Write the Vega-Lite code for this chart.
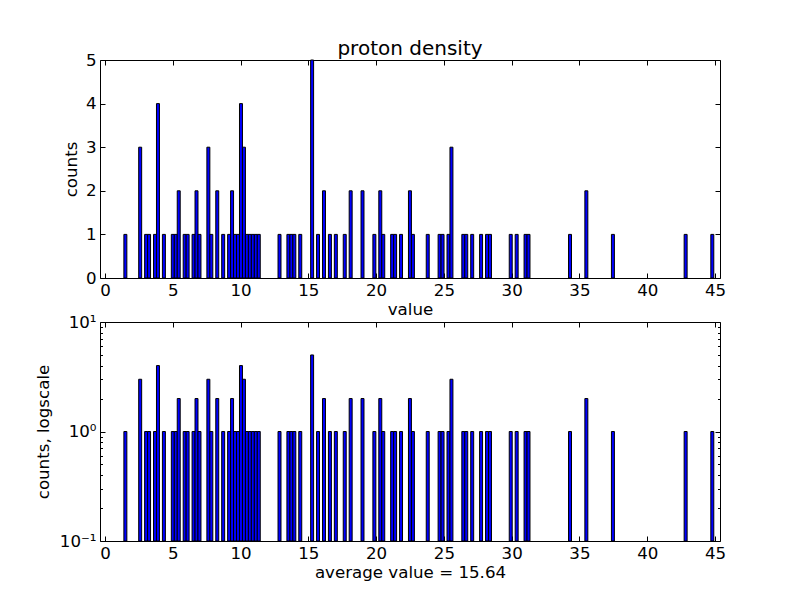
{
  "$schema": "https://vega.github.io/schema/vega-lite/v6.json",
  "padding": {"left": 34, "top": 38, "right": 0, "bottom": 0},
  "background": "white",
  "config": {
    "font": "DejaVu Sans",
    "view": {"stroke": "black", "strokeWidth": 1},
    "axis": {
      "grid": false,
      "domain": false,
      "tickColor": "black",
      "tickSize": -5,
      "labelFontSize": 16.67,
      "labelColor": "black",
      "labelPadding": 9,
      "titleFontSize": 16.67,
      "titleFontWeight": "normal",
      "titleColor": "black"
    }
  },
  "datasets": {
    "hist": [
      {"bin_start": 1.393, "bin_end": 1.612, "count": 1},
      {"bin_start": 2.486, "bin_end": 2.705, "count": 3},
      {"bin_start": 2.924, "bin_end": 3.143, "count": 1},
      {"bin_start": 3.142, "bin_end": 3.361, "count": 1},
      {"bin_start": 3.580, "bin_end": 3.799, "count": 1},
      {"bin_start": 3.798, "bin_end": 4.017, "count": 4},
      {"bin_start": 4.236, "bin_end": 4.455, "count": 1},
      {"bin_start": 4.892, "bin_end": 5.111, "count": 1},
      {"bin_start": 5.111, "bin_end": 5.330, "count": 1},
      {"bin_start": 5.329, "bin_end": 5.548, "count": 2},
      {"bin_start": 5.767, "bin_end": 5.986, "count": 1},
      {"bin_start": 5.986, "bin_end": 6.205, "count": 1},
      {"bin_start": 6.423, "bin_end": 6.642, "count": 1},
      {"bin_start": 6.641, "bin_end": 6.860, "count": 2},
      {"bin_start": 6.860, "bin_end": 7.079, "count": 1},
      {"bin_start": 7.516, "bin_end": 7.735, "count": 3},
      {"bin_start": 7.735, "bin_end": 7.954, "count": 1},
      {"bin_start": 8.172, "bin_end": 8.391, "count": 2},
      {"bin_start": 8.609, "bin_end": 8.828, "count": 1},
      {"bin_start": 9.047, "bin_end": 9.266, "count": 1},
      {"bin_start": 9.265, "bin_end": 9.484, "count": 2},
      {"bin_start": 9.484, "bin_end": 9.703, "count": 1},
      {"bin_start": 9.703, "bin_end": 9.922, "count": 1},
      {"bin_start": 9.922, "bin_end": 10.141, "count": 4},
      {"bin_start": 10.140, "bin_end": 10.359, "count": 3},
      {"bin_start": 10.359, "bin_end": 10.578, "count": 1},
      {"bin_start": 10.578, "bin_end": 10.797, "count": 1},
      {"bin_start": 10.796, "bin_end": 11.015, "count": 1},
      {"bin_start": 11.015, "bin_end": 11.234, "count": 1},
      {"bin_start": 11.234, "bin_end": 11.453, "count": 1},
      {"bin_start": 12.764, "bin_end": 12.983, "count": 1},
      {"bin_start": 13.420, "bin_end": 13.639, "count": 1},
      {"bin_start": 13.639, "bin_end": 13.858, "count": 1},
      {"bin_start": 13.858, "bin_end": 14.077, "count": 1},
      {"bin_start": 14.295, "bin_end": 14.514, "count": 1},
      {"bin_start": 15.170, "bin_end": 15.389, "count": 5},
      {"bin_start": 15.607, "bin_end": 15.826, "count": 1},
      {"bin_start": 16.045, "bin_end": 16.264, "count": 2},
      {"bin_start": 16.482, "bin_end": 16.701, "count": 1},
      {"bin_start": 16.919, "bin_end": 17.138, "count": 1},
      {"bin_start": 17.575, "bin_end": 17.794, "count": 1},
      {"bin_start": 18.013, "bin_end": 18.232, "count": 2},
      {"bin_start": 18.887, "bin_end": 19.106, "count": 2},
      {"bin_start": 19.762, "bin_end": 19.981, "count": 1},
      {"bin_start": 20.199, "bin_end": 20.418, "count": 2},
      {"bin_start": 20.418, "bin_end": 20.637, "count": 1},
      {"bin_start": 21.074, "bin_end": 21.293, "count": 1},
      {"bin_start": 21.293, "bin_end": 21.512, "count": 1},
      {"bin_start": 21.730, "bin_end": 21.949, "count": 1},
      {"bin_start": 22.386, "bin_end": 22.605, "count": 2},
      {"bin_start": 22.605, "bin_end": 22.824, "count": 1},
      {"bin_start": 23.698, "bin_end": 23.917, "count": 1},
      {"bin_start": 24.573, "bin_end": 24.792, "count": 1},
      {"bin_start": 24.792, "bin_end": 25.011, "count": 1},
      {"bin_start": 25.229, "bin_end": 25.448, "count": 1},
      {"bin_start": 25.448, "bin_end": 25.667, "count": 3},
      {"bin_start": 26.323, "bin_end": 26.542, "count": 1},
      {"bin_start": 26.541, "bin_end": 26.760, "count": 1},
      {"bin_start": 26.979, "bin_end": 27.198, "count": 1},
      {"bin_start": 27.635, "bin_end": 27.854, "count": 1},
      {"bin_start": 28.072, "bin_end": 28.291, "count": 1},
      {"bin_start": 28.291, "bin_end": 28.510, "count": 1},
      {"bin_start": 29.821, "bin_end": 30.040, "count": 1},
      {"bin_start": 30.259, "bin_end": 30.478, "count": 1},
      {"bin_start": 30.915, "bin_end": 31.134, "count": 1},
      {"bin_start": 31.133, "bin_end": 31.352, "count": 1},
      {"bin_start": 34.195, "bin_end": 34.414, "count": 1},
      {"bin_start": 35.400, "bin_end": 35.619, "count": 2},
      {"bin_start": 37.360, "bin_end": 37.579, "count": 1},
      {"bin_start": 42.724, "bin_end": 42.943, "count": 1},
      {"bin_start": 44.692, "bin_end": 44.911, "count": 1}
    ]
  },
  "vconcat": [
    {
      "width": 620,
      "height": 218,
      "title": {"text": "proton density", "fontSize": 20, "fontWeight": "normal", "color": "black", "anchor": "middle", "frame": "group", "offset": -7},
      "data": {"name": "hist"},
      "layer": [
        {
          "mark": {"type": "bar", "fill": "#0000ff", "stroke": "black", "strokeWidth": 1},
          "encoding": {
            "x": {"field": "bin_start", "type": "quantitative", "scale": {"domain": [0, 45], "nice": false},
                  "axis": {"title": "value", "values": [0, 5, 10, 15, 20, 25, 30, 35, 40, 45], "titlePadding": 3}},
            "x2": {"field": "bin_end"},
            "y": {"field": "count", "type": "quantitative", "scale": {"domain": [0, 5], "nice": false},
                  "axis": {"title": "counts", "values": [0, 1, 2, 3, 4, 5], "titleX": -20, "titleBaseline": "bottom"}},
            "y2": {"datum": 0}
          }
        },
        {
          "mark": {"type": "bar", "opacity": 0},
          "encoding": {
            "x": {"field": "bin_start", "type": "quantitative", "axis": {"orient": "top", "labels": false, "title": null, "labelPadding": 0, "values": [0, 5, 10, 15, 20, 25, 30, 35, 40, 45]}},
            "y": {"field": "count", "type": "quantitative", "axis": {"orient": "right", "labels": false, "title": null, "labelPadding": 0, "values": [0, 1, 2, 3, 4, 5]}}
          }
        }
      ],
      "resolve": {"axis": {"x": "independent", "y": "independent"}}
    },
    {
      "width": 620,
      "height": 219,
      "data": {"name": "hist"},
      "layer": [
        {
          "mark": {"type": "bar", "fill": "#0000ff", "stroke": "black", "strokeWidth": 1},
          "encoding": {
            "x": {"field": "bin_start", "type": "quantitative", "scale": {"domain": [0, 45], "nice": false},
                  "axis": {"title": "average value = 15.64", "values": [0, 5, 10, 15, 20, 25, 30, 35, 40, 45], "titlePadding": 3}},
            "x2": {"field": "bin_end"},
            "y": {"field": "count", "type": "quantitative", "scale": {"type": "log", "domain": [0.1, 10], "nice": false},
                  "axis": {"title": "counts, logscale", "titleX": -48, "titleBaseline": "bottom",
                           "values": [0.1, 0.2, 0.3, 0.4, 0.5, 0.6, 0.7, 0.8, 0.9, 1, 2, 3, 4, 5, 6, 7, 8, 9, 10],
                           "labelExpr": "datum.value == 0.1 ? '10⁻¹' : datum.value == 1 ? '10⁰' : datum.value == 10 ? '10¹' : ''",
                           "tickSize": {"condition": {"test": "datum.value == 0.1 || datum.value == 1 || datum.value == 10", "value": -5}, "value": -2.5}}},
            "y2": {"datum": 0.1}
          }
        },
        {
          "mark": {"type": "bar", "opacity": 0},
          "encoding": {
            "x": {"field": "bin_start", "type": "quantitative", "axis": {"orient": "top", "labels": false, "title": null, "labelPadding": 0, "values": [0, 5, 10, 15, 20, 25, 30, 35, 40, 45]}},
            "y": {"field": "count", "type": "quantitative",
                  "axis": {"orient": "right", "labels": false, "title": null, "labelPadding": 0,
                           "values": [0.1, 0.2, 0.3, 0.4, 0.5, 0.6, 0.7, 0.8, 0.9, 1, 2, 3, 4, 5, 6, 7, 8, 9, 10],
                           "tickSize": {"condition": {"test": "datum.value == 0.1 || datum.value == 1 || datum.value == 10", "value": -5}, "value": -2.5}}}
          }
        }
      ],
      "resolve": {"axis": {"x": "independent", "y": "independent"}}
    }
  ],
  "bounds": "flush",
  "spacing": 44
}
